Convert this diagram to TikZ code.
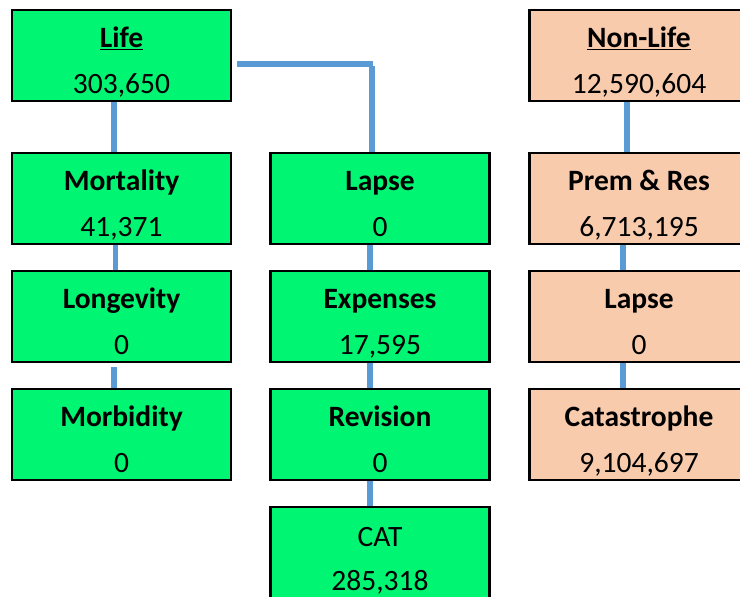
\documentclass[tikz,border=0pt]{standalone}
\usepackage{fontspec}
\setmainfont{Carlito}
\definecolor{lgreen}{HTML}{00F572}
\definecolor{peach}{HTML}{F8CBAD}
\definecolor{connblue}{HTML}{5B9BD5}
\tikzset{
  boxnode/.style={draw=black, line width=2.5pt, minimum width=219pt, minimum height=91pt, inner sep=0pt},
  ttl/.style={inner sep=0pt, font=\fontsize{29.5}{34}\selectfont\bfseries, text height=0.65em, text depth=0em},
  val/.style={inner sep=0pt, font=\fontsize{29.5}{34}\selectfont, text height=0.65em, text depth=0em},
  conn/.style={draw=connblue, line width=5.5pt}
}
\newcommand\mybox[6]{%
  \node[boxnode, fill=#4] (#1) at (#2,#3+45.5) {};
  \node[ttl] (#1t) at (#2,#3+34) {#5};
  \node[val] (#1v) at (#2,#3+80) {#6};
}
\begin{document}
\begin{tikzpicture}[x=1pt,y=-1pt]
\useasboundingbox (0,0) rectangle (740,597);
\clip (0,0) rectangle (740,597);
% left column
\mybox{life}{121.5}{10}{lgreen}{\underline{Life}}{303,650}
\mybox{mort}{121.5}{153}{lgreen}{Mortality}{41,371}
\mybox{long}{121.5}{271}{lgreen}{Longevity}{0}
\mybox{morb}{121.5}{389}{lgreen}{Morbidity}{0}
% middle column
\mybox{lapse}{380}{153}{lgreen}{Lapse}{0}
\mybox{exp}{380}{271}{lgreen}{Expenses}{17,595}
\mybox{rev}{380}{389}{lgreen}{Revision}{0}
\node[boxnode, fill=lgreen] (cat) at (380,507+45.5) {};
\node[val] (catt) at (380,543) {CAT};
\node[val] (catv) at (380,587) {285,318};
% right column
\mybox{nl}{639}{10}{peach}{\underline{Non-Life}}{12,590,604}
\mybox{prem}{639}{153}{peach}{Prem \& Res}{6,713,195}
\mybox{nlapse}{639}{271}{peach}{Lapse}{0}
\mybox{catas}{639}{389}{peach}{Catastrophe}{9,104,697}
% connectors
\draw[conn] ([xshift=-7.5pt]life.south) -- ([xshift=-7.5pt]mort.north);
\draw[conn] ([xshift=-6pt]mort.south) -- ([xshift=-6pt]long.north);
\draw[conn, shorten <=4pt] ([xshift=-7.5pt]long.south) -- ([xshift=-7.5pt]morb.north);
\coordinate (lifeR) at (237,64);
\coordinate (elbowH) at (373,64);
\coordinate (elbowV) at (372,66);
\draw[conn] (lifeR) -- (elbowH);
\draw[conn] (elbowV) -- (elbowV |- lapse.north);
\draw[conn] ([xshift=-10pt]lapse.south) -- ([xshift=-10pt]exp.north);
\draw[conn] ([xshift=-10pt]exp.south) -- ([xshift=-10pt]rev.north);
\draw[conn] ([xshift=-10pt]rev.south) -- ([xshift=-10pt]cat.north);
\draw[conn] ([xshift=-12pt]nl.south) -- ([xshift=-12pt]prem.north);
\draw[conn] ([xshift=-16pt]prem.south) -- ([xshift=-16pt]nlapse.north);
\draw[conn] ([xshift=-16pt]nlapse.south) -- ([xshift=-16pt]catas.north);
\end{tikzpicture}
\end{document}
